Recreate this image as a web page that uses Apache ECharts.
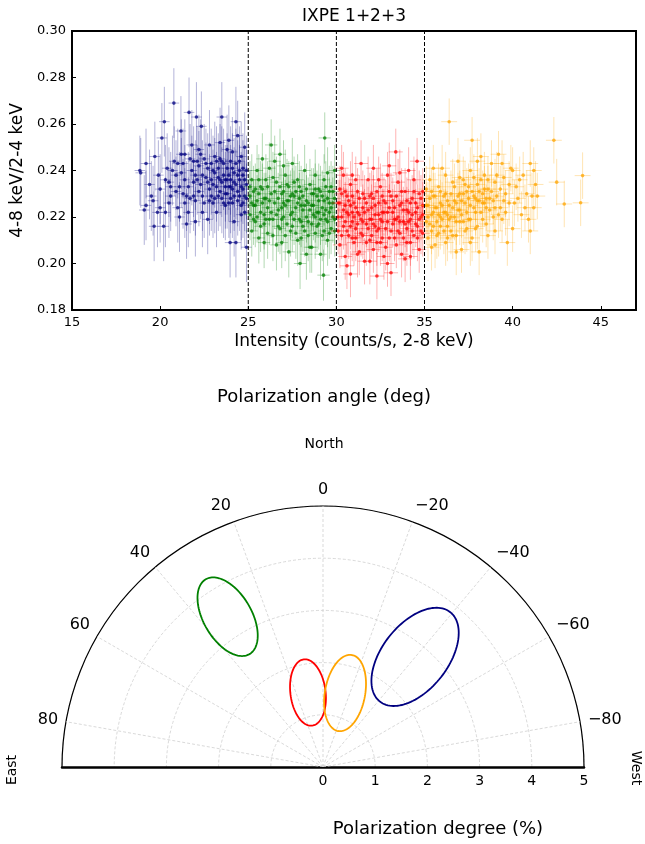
<!DOCTYPE html>
<html><head><meta charset="utf-8">
<script src="https://cdn.jsdelivr.net/npm/echarts@6/dist/echarts.min.js"></script>
<style>html,body{margin:0;padding:0;background:#fff}#c{width:645px;height:844px}</style>
</head><body><div id="c"></div>
<script>
// ---------- top panel data: [intensity, hardness ratio] ----------
const colors = ['#000080', '#008000', '#ff0000', '#ffa500'];
const blue = [[18.85,.240],[18.9,.239],[19.2,.243],[19.2,.225],[19.1,.223],[19.4,.234],[19.5,.229],[19.66,.216],[19.7,.246],[19.85,.222],[20.0,.232],[20.1,.254],[20.24,.261],[20.3,.236],[20.4,.241],[20.5,.226],[20.6,.229],[20.78,.269],[20.8,.244],[20.9,.238],[21.0,.224],[21.1,.233],[21.18,.257],[21.2,.247],[21.3,.243],[21.4,.236],[21.5,.229],[21.6,.222],[21.64,.265],[21.7,.245],[21.8,.240],[21.9,.235],[22.0,.218],[22.06,.263],[22.1,.244],[22.2,.231],[22.3,.247],[22.34,.259],[22.4,.238],[22.5,.226],[22.6,.243],[22.7,.235],[22.8,.251],[22.9,.229],[23.0,.240],[23.1,.246],[23.2,.222],[23.3,.237],[23.4,.231],[23.5,.263],[23.5,.244],[23.6,.226],[23.7,.236],[23.8,.249],[23.9,.253],[23.9,.233],[23.97,.209],[24.0,.228],[24.1,.241],[24.2,.235],[24.3,.261],[24.3,.209],[24.4,.255],[24.4,.231],[24.5,.244],[24.6,.225],[24.7,.238],[24.8,.250],[24.8,.229],[24.9,.207],[24.9,.234],[21.5,.217],[20.2,.216],[22.7,.219],[23.1,.228],[24.2,.218],[22.0,.227],[20.9,.231],[23.8,.241],[24.6,.221],[21.8,.251],[23.4,.236],[24.0,.233],[24.5,.236],[23.7,.230],[22.9,.236],[24.7,.232],
[21.0,.243],[21.2,.239],[21.3,.230],[21.4,.247],[21.6,.233],[21.7,.228],[21.9,.244],[22.0,.238],[22.1,.236],[22.2,.242],[22.3,.234],[22.4,.229],[22.5,.245],[22.6,.237],[22.7,.241],[22.8,.232],[22.9,.243],[23.0,.234],[23.0,.226],[23.1,.239],[23.2,.244],[23.2,.233],[23.3,.229],[23.3,.241],[23.4,.245],[23.5,.235],[23.5,.228],[23.6,.238],[23.6,.243],[23.7,.233],[23.7,.225],[23.8,.236],[23.8,.230],[23.9,.238],[23.9,.226],[24.0,.236],[24.0,.244],[24.1,.232],[24.1,.226],[24.2,.239],[24.2,.229],[24.3,.234],[24.3,.243],[24.4,.227],[24.4,.238],[24.5,.229],[24.5,.240],[24.6,.233],[24.6,.246],[24.7,.226],[24.7,.241],[24.8,.236],[24.8,.222],[24.9,.240],[24.9,.228],[20.5,.235],[20.7,.240],[20.0,.224],[19.9,.238],[21.1,.220],[22.4,.222],[21.4,.226],[20.6,.233],[22.2,.249],[23.4,.252],[24.1,.248],[22.8,.227],[20.3,.222],[19.6,.227],[21.9,.229]];
const green = [[25.1,.229],[25.1,.221],[25.2,.236],[25.2,.214],[25.3,.225],[25.4,.232],[25.4,.218],[25.5,.240],[25.5,.227],[25.6,.211],[25.7,.222],[25.7,.233],[25.8,.245],[25.9,.217],[25.9,.228],[26.0,.236],[26.1,.213],[26.1,.224],[26.2,.241],[26.3,.251],[26.3,.230],[26.4,.219],[26.5,.226],[26.6,.208],[26.6,.235],[26.7,.223],[26.8,.247],[26.8,.215],[26.9,.230],[27.0,.220],[27.1,.238],[27.1,.212],[27.2,.227],[27.3,.205],[27.3,.233],[27.4,.221],[27.5,.243],[27.5,.216],[27.6,.229],[27.7,.224],[27.8,.210],[27.8,.236],[27.9,.219],[27.94,.200],[28.0,.231],[28.1,.223],[28.2,.240],[28.2,.214],[28.3,.227],[28.4,.218],[28.5,.234],[28.5,.207],[28.6,.225],[28.7,.221],[28.8,.238],[28.8,.213],[28.9,.229],[29.0,.217],[29.0,.232],[29.1,.204],[29.2,.224],[29.27,.195],[29.3,.236],[29.34,.254],[29.4,.219],[29.5,.228],[29.5,.210],[29.6,.222],[29.7,.233],[29.7,.215],[29.8,.226],[29.9,.219],[29.9,.240],[26.0,.219],[27.5,.230],[28.7,.230],[29.2,.212],[25.6,.230],[26.9,.209],[28.3,.204],[28.9,.222],[29.6,.226],[28.0,.225],[27.0,.226],[29.3,.221],
[25.1,.233],[25.2,.226],[25.3,.219],[25.3,.231],[25.4,.225],[25.5,.220],[25.6,.236],[25.7,.216],[25.8,.226],[25.8,.232],[25.9,.221],[26.0,.228],[26.1,.233],[26.2,.219],[26.2,.227],[26.3,.222],[26.4,.237],[26.4,.212],[26.5,.231],[26.6,.221],[26.7,.228],[26.7,.216],[26.8,.233],[26.9,.224],[26.9,.219],[27.0,.231],[27.1,.225],[27.2,.217],[27.2,.234],[27.3,.227],[27.4,.214],[27.4,.229],[27.5,.222],[27.6,.219],[27.6,.235],[27.7,.231],[27.7,.213],[27.8,.226],[27.9,.228],[27.9,.233],[28.0,.218],[28.0,.211],[28.1,.229],[28.1,.216],[28.2,.225],[28.3,.232],[28.3,.220],[28.4,.226],[28.4,.212],[28.5,.223],[28.6,.230],[28.6,.217],[28.7,.225],[28.8,.220],[28.8,.232],[28.9,.216],[29.0,.227],[29.0,.222],[29.1,.231],[29.1,.219],[29.2,.229],[29.3,.214],[29.3,.227],[29.4,.233],[29.4,.223],[29.5,.218],[29.6,.231],[29.6,.213],[29.7,.224],[29.8,.220],[29.8,.231],[29.9,.214],[29.9,.228],[27.0,.242],[28.6,.207],[26.5,.244],[29.5,.239],[25.9,.209]];
const red = [[30.1,.226],[30.1,.214],[30.2,.232],[30.2,.208],[30.3,.220],[30.4,.238],[30.4,.216],[30.5,.225],[30.5,.203],[30.6,.229],[30.7,.212],[30.7,.221],[30.8,.1955],[30.8,.234],[30.9,.218],[31.0,.226],[31.0,.209],[31.1,.215],[31.2,.231],[31.2,.222],[31.3,.205],[31.4,.243],[31.4,.219],[31.5,.212],[31.6,.228],[31.6,.201],[31.7,.217],[31.8,.236],[31.8,.223],[31.9,.210],[32.0,.219],[32.0,.230],[32.1,.206],[32.2,.225],[32.3,.1946],[32.3,.214],[32.4,.221],[32.5,.233],[32.5,.209],[32.6,.218],[32.7,.227],[32.7,.203],[32.8,.215],[32.9,.238],[32.9,.222],[33.0,.211],[33.1,.196],[33.1,.229],[33.2,.217],[33.3,.224],[33.37,.248],[33.4,.208],[33.5,.220],[33.5,.235],[33.6,.213],[33.7,.226],[33.7,.204],[33.8,.218],[33.9,.231],[34.0,.215],[34.0,.223],[34.1,.240],[34.2,.209],[34.2,.219],[34.3,.228],[34.4,.212],[34.5,.222],[34.58,.244],[34.6,.216],[34.7,.230],[34.7,.206],[34.8,.220],[34.9,.225],[34.9,.213],[30.3,.241],[31.1,.236],[32.1,.241],[33.0,.242],[34.4,.236],[31.9,.201],[33.9,.202],[30.6,.199],[31.5,.224],[32.6,.222],[33.4,.219],[34.1,.218],[30.9,.222],[32.2,.216],
[30.1,.220],[30.2,.226],[30.3,.212],[30.3,.230],[30.4,.223],[30.5,.218],[30.5,.231],[30.6,.214],[30.6,.222],[30.7,.227],[30.8,.216],[30.8,.225],[30.9,.211],[30.9,.229],[31.0,.220],[31.1,.224],[31.1,.211],[31.2,.217],[31.3,.228],[31.3,.221],[31.4,.213],[31.5,.230],[31.5,.218],[31.6,.222],[31.7,.209],[31.7,.226],[31.8,.215],[31.9,.229],[31.9,.219],[32.0,.224],[32.0,.212],[32.1,.228],[32.1,.217],[32.2,.221],[32.3,.231],[32.3,.209],[32.4,.226],[32.4,.215],[32.5,.219],[32.6,.229],[32.6,.211],[32.7,.222],[32.8,.226],[32.8,.207],[32.9,.218],[33.0,.224],[33.0,.231],[33.1,.214],[33.2,.222],[33.2,.227],[33.3,.211],[33.3,.219],[33.4,.229],[33.5,.214],[33.6,.225],[33.6,.218],[33.7,.231],[33.8,.211],[33.8,.223],[33.9,.217],[34.0,.227],[34.0,.209],[34.1,.222],[34.2,.226],[34.3,.214],[34.3,.221],[34.4,.231],[34.5,.217],[34.5,.226],[34.6,.211],[34.6,.224],[34.7,.219],[34.8,.228],[34.8,.214],[34.9,.221],[34.9,.231],[32.4,.236],[31.2,.204],[33.6,.239],[30.9,.238],[34.2,.203],[32.9,.200]];
const orange = [[35.1,.232],[35.1,.218],[35.2,.225],[35.2,.211],[35.3,.236],[35.4,.221],[35.4,.214],[35.5,.229],[35.6,.208],[35.6,.224],[35.7,.218],[35.8,.233],[35.8,.213],[35.9,.226],[36.0,.219],[36.0,.241],[36.1,.222],[36.2,.209],[36.2,.230],[36.3,.216],[36.4,.261],[36.4,.225],[36.5,.220],[36.6,.235],[36.6,.212],[36.7,.227],[36.8,.218],[36.9,.244],[36.9,.223],[37.0,.230],[37.1,.206],[37.1,.221],[37.2,.236],[37.3,.226],[37.3,.214],[37.4,.231],[37.5,.219],[37.6,.240],[37.6,.225],[37.7,.253],[37.7,.211],[37.8,.229],[37.9,.222],[38.0,.234],[38.0,.216],[38.1,.205],[38.1,.227],[38.2,.246],[38.3,.230],[38.3,.219],[38.4,.238],[38.5,.224],[38.6,.212],[38.6,.232],[38.7,.228],[38.8,.243],[38.9,.220],[39.0,.235],[39.0,.214],[39.1,.229],[39.2,.247],[39.3,.224],[39.4,.219],[39.5,.237],[39.6,.230],[39.8,.226],[39.9,.241],[40.0,.215],[40.2,.233],[40.3,.228],[40.5,.221],[40.6,.238],[40.8,.230],[41.0,.243],[41.1,.229],[41.2,.224],[41.3,.234],[42.34,.253],[42.5,.235],[42.93,.2256],[43.86,.2261],[43.97,.2378],[36.8,.205],[35.5,.241],[39.7,.209],[36.3,.221],[37.0,.218],[35.9,.220],[38.4,.226],
[35.1,.225],[35.2,.220],[35.3,.228],[35.3,.217],[35.4,.231],[35.5,.222],[35.5,.216],[35.6,.229],[35.7,.224],[35.7,.212],[35.8,.221],[35.9,.231],[35.9,.216],[36.0,.225],[36.1,.229],[36.1,.214],[36.2,.222],[36.3,.227],[36.3,.211],[36.4,.219],[36.5,.230],[36.5,.214],[36.6,.224],[36.7,.220],[36.7,.233],[36.8,.226],[36.8,.212],[36.9,.229],[37.0,.223],[37.0,.237],[37.1,.227],[37.2,.218],[37.2,.230],[37.3,.234],[37.4,.222],[37.4,.215],[37.5,.228],[37.5,.233],[37.6,.219],[37.7,.231],[37.8,.224],[37.8,.237],[37.9,.228],[37.9,.215],[38.0,.227],[38.1,.231],[38.2,.222],[38.2,.236],[38.3,.226],[38.4,.232],[38.5,.228],[38.5,.217],[38.6,.236],[38.7,.223],[38.8,.231],[38.9,.227],[39.0,.224],[39.1,.238],[39.2,.221],[39.3,.232],[39.5,.227],[39.6,.222],[39.8,.234],[40.1,.226],[40.4,.236],[40.7,.224],[40.9,.219],[41.4,.229],[41.0,.214],[39.4,.243],[38.0,.244],[36.2,.238],[35.4,.207],[37.6,.209],[40.0,.240],[41.2,.240]];
const groups = [blue, green, red, orange];
const xErr = [0.30, 0.35, 0.40, 0.45];      // half-width of horizontal error bar
const yErr = [0.015, 0.011, 0.010, 0.010];  // half-height of vertical error bar
const splitBounds = [25, 30, 35];

// ---------- bottom panel data ----------
const angleGrid = [-80, -60, -40, -20, 0, 20, 40, 60, 80];
const ellPD    = [2.75, 3.41, 1.456, 1.479];   // centre, polarization degree (%)
const ellPA    = [-39.9, 32.4, 11.4, -16.6];   // centre, polarization angle (deg)
const ellMajor = [1.09, 0.83, 0.64, 0.74];     // semi-major axis (%)
const ellMinor = [0.63, 0.46, 0.337, 0.385];   // semi-minor axis (%)
const ellTilt  = [-38.2, 30.3, 7.2, -10.4];    // tilt of major axis from north (deg, + toward east)
const ellColors = ['#000080', '#008000', '#ff0000', '#ffa500'];

const FONT = 'DejaVu Sans';
const chart = echarts.init(document.getElementById('c'));

const series = [];
groups.forEach((pts, i) => {
  series.push({
    type: 'custom', xAxisIndex: 0, yAxisIndex: 0, data: pts, z: 2 + i, silent: true,
    renderItem(params, api) {
      const x = api.value(0), y = api.value(1);
      const l = api.coord([x - xErr[i], y]), r = api.coord([x + xErr[i], y]);
      const t = api.coord([x, y + yErr[i]]), b = api.coord([x, y - yErr[i]]);
      const c = api.coord([x, y]);
      return { type: 'group', children: [
        { type: 'line', shape: { x1: l[0], y1: l[1], x2: r[0], y2: r[1] }, style: { stroke: colors[i], opacity: 0.3, lineWidth: 1 } },
        { type: 'line', shape: { x1: t[0], y1: t[1], x2: b[0], y2: b[1] }, style: { stroke: colors[i], opacity: 0.3, lineWidth: 1 } },
        { type: 'circle', shape: { cx: c[0], cy: c[1], r: 1.8 }, style: { fill: colors[i], opacity: 0.75 } }
      ]};
    }
  });
});
splitBounds.forEach(b => {
  series.push({ type: 'line', xAxisIndex: 0, yAxisIndex: 0, data: [[b, 0.18], [b, 0.30]], symbol: 'none', silent: true, z: 10,
    lineStyle: { color: '#000', width: 1, type: [4, 2] } });
});
angleGrid.forEach(a => {
  series.push({ type: 'line', coordinateSystem: 'polar', polarIndex: 0, data: [[0, a], [5, a]], symbol: 'none', silent: true, z: 1,
    lineStyle: { color: '#cfcfcf', width: 0.8, type: [3, 2] } });
});
series.push({
  type: 'custom', coordinateSystem: 'polar', polarIndex: 0, z: 5, silent: true,
  data: ellPD.map((pd, k) => [pd, ellPA[k], ellMajor[k], ellMinor[k], ellTilt[k]]),
  renderItem(params, api) {
    const k = params.dataIndex;
    const p0 = api.coord([0, 0]), p1 = api.coord([1, 0]);
    const s = Math.hypot(p1[0] - p0[0], p1[1] - p0[1]);
    const c = api.coord([api.value(0), api.value(1)]);
    const a = api.value(2) * s, b = api.value(3) * s, tl = api.value(4) * Math.PI / 180;
    const du = [-Math.sin(tl), -Math.cos(tl)], dv = [Math.cos(tl), -Math.sin(tl)];
    const pts = [];
    for (let j = 0; j < 120; j++) {
      const t = j / 120 * 2 * Math.PI;
      pts.push([c[0] + a * Math.cos(t) * du[0] + b * Math.sin(t) * dv[0], c[1] + a * Math.cos(t) * du[1] + b * Math.sin(t) * dv[1]]);
    }
    return { type: 'polygon', shape: { points: pts }, style: { fill: 'none', stroke: ellColors[k], lineWidth: 1.8 } };
  }
});

const option = {
  animation: false,
  textStyle: { fontFamily: FONT },
  grid: [
    { left: 72, right: 9, top: 31, bottom: 534, show: true, borderColor: '#000', borderWidth: 2 },
    { left: 62, width: 522, top: 500, bottom: 77 }
  ],
  xAxis: [
    { gridIndex: 0, type: 'value', min: 15, max: 47, interval: 5,
      name: 'Intensity (counts/s, 2-8 keV)', nameLocation: 'middle', nameGap: 23,
      nameTextStyle: { fontSize: 17, color: '#000', fontFamily: FONT },
      axisLine: { lineStyle: { color: '#000', width: 2 } },
      axisTick: { inside: true, length: 4, lineStyle: { color: '#000' } },
      axisLabel: { fontSize: 13, color: '#000', margin: 6, showMaxLabel: false, fontFamily: FONT },
      splitLine: { show: false } },
    { gridIndex: 1, type: 'value', min: -5, max: 5, interval: 1,
      axisLine: { onZero: false, lineStyle: { color: '#000', width: 2.5 } },
      axisTick: { show: false },
      axisLabel: { fontSize: 14, color: '#000', margin: 7, fontFamily: FONT, formatter: v => v >= 0 ? String(v) : '' },
      splitLine: { show: false } }
  ],
  yAxis: [
    { gridIndex: 0, type: 'value', min: 0.18, max: 0.30, interval: 0.02,
      name: '4-8 keV/2-4 keV', nameLocation: 'middle', nameGap: 44,
      nameTextStyle: { fontSize: 17, color: '#000', fontFamily: FONT },
      axisLine: { lineStyle: { color: '#000', width: 2 } },
      axisTick: { inside: true, length: 4, lineStyle: { color: '#000' } },
      axisLabel: { fontSize: 13, color: '#000', margin: 6, fontFamily: FONT, formatter: v => v.toFixed(2) },
      splitLine: { show: false } },
    { gridIndex: 1, type: 'value', min: 0, max: 5, show: false }
  ],
  polar: { center: [323, 767], radius: 261 },
  angleAxis: {
    type: 'value', min: -90, max: 90, interval: 10, startAngle: 0, endAngle: 180, clockwise: false,
    axisLine: { lineStyle: { color: '#000', width: 1.2 } },
    axisTick: { show: false },
    splitLine: { show: false },
    axisLabel: { fontSize: 16, color: '#000', margin: 8, fontFamily: FONT,
      formatter: v => (Math.round(v) % 20 === 0 && Math.abs(v) < 90) ? (v < 0 ? '\u2212' + (-v) : String(v)) : '' }
  },
  radiusAxis: {
    type: 'value', min: 0, max: 5, interval: 1,
    axisLine: { show: false }, axisTick: { show: false }, axisLabel: { show: false },
    splitLine: { show: true, lineStyle: { color: '#cfcfcf', width: 0.8, type: [3, 2] } }
  },
  graphic: [
    { type: 'text', x: 354, y: 17, style: { text: 'IXPE 1+2+3', font: '17px "DejaVu Sans"', fill: '#000', align: 'center', verticalAlign: 'middle', textAlign: 'center', textVerticalAlign: 'middle' } },
    { type: 'text', x: 324, y: 397, style: { text: 'Polarization angle (deg)', font: '18px "DejaVu Sans"', fill: '#000', align: 'center', verticalAlign: 'middle', textAlign: 'center', textVerticalAlign: 'middle' } },
    { type: 'text', x: 324, y: 444, style: { text: 'North', font: '14px "DejaVu Sans"', fill: '#000', align: 'center', verticalAlign: 'middle', textAlign: 'center', textVerticalAlign: 'middle' } },
    { type: 'text', x: 12, y: 770, rotation: Math.PI / 2, style: { text: 'East', font: '14px "DejaVu Sans"', fill: '#000', align: 'center', verticalAlign: 'middle', textAlign: 'center', textVerticalAlign: 'middle' } },
    { type: 'text', x: 636, y: 768, rotation: -Math.PI / 2, style: { text: 'West', font: '14px "DejaVu Sans"', fill: '#000', align: 'center', verticalAlign: 'middle', textAlign: 'center', textVerticalAlign: 'middle' } },
    { type: 'text', x: 438, y: 829, style: { text: 'Polarization degree (%)', font: '18px "DejaVu Sans"', fill: '#000', align: 'center', verticalAlign: 'middle', textAlign: 'center', textVerticalAlign: 'middle' } }
  ],
  series
};
chart.setOption(option);
</script>
</body></html>
